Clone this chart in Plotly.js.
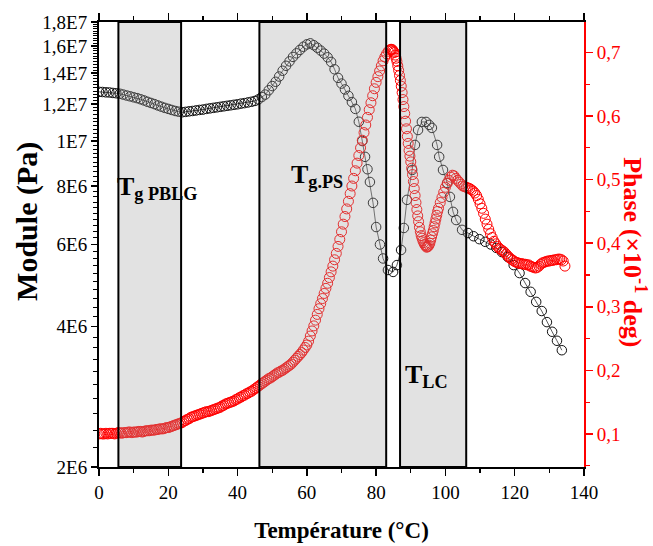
<!DOCTYPE html>
<html>
<head>
<meta charset="utf-8">
<script src="https://cdn.plot.ly/plotly-3.0.1.min.js"></script>
<style>html,body{margin:0;padding:0;background:#fff;}#chart{width:653px;height:546px;}</style>
</head>
<body>
<div id="chart"></div>
<script>
// Module (Pa) — black open circles, left log axis
const moduleT = [0,1,2,3,4,5,6,7,8,9,10,11,12,13,14,15,16,17,18,19,20,21,22,23,24,25,26,27,28,29,30,31,32,33,34,35,36,37,38,39,40,41,42,43,44,45,46,
  47,48,49,50,51,52,53,54,55,56,57,58,59,60,61,62,63,64,65,66,67,68,69,70,71,72,73,74,75,76,76.8,77.5,78.2,79.1,80.0,81.1,82.0,83.4,84.9,86.0,87.2,
  88.0,88.9,90.4,91.2,92.1,93.2,94.4,95.3,96.1,97.6,98.2,99.3,100.5,101.3,102.2,103.1,104.8,106.5,108.1,109.8,111.5,113.1,114.7,
  116.3,118.0,119.7,121.4,123.0,124.6,126.2,127.8,129.3,130.8,132.2,133.6];
const moduleG = [1.275e7,1.274e7,1.272e7,1.271e7,1.268e7,1.266e7,1.263e7,1.258e7,1.252e7,1.247e7,1.241e7,1.236e7,1.229e7,1.222e7,1.214e7,1.207e7,1.200e7,1.192e7,1.185e7,1.178e7,1.172e7,1.166e7,1.160e7,1.156e7,1.153e7,1.155e7,1.158e7,1.160e7,1.163e7,1.166e7,1.168e7,1.172e7,1.175e7,1.178e7,1.181e7,1.184e7,1.187e7,1.190e7,1.193e7,1.196e7,1.199e7,1.203e7,1.206e7,1.210e7,1.214e7,1.219e7,1.228e7,
  1.243e7,1.258e7,1.285e7,1.312e7,1.340e7,1.375e7,1.415e7,1.450e7,1.482e7,1.515e7,1.542e7,1.568e7,1.593e7,1.612e7,1.620e7,1.605e7,1.585e7,1.563e7,1.540e7,1.512e7,1.478e7,1.425e7,1.366e7,1.328e7,1.290e7,1.250e7,1.212e7,1.172e7,1.100e7,1.000e7,9.25e6,8.70e6,8.17e6,7.37e6,6.54e6,6.00e6,5.60e6,5.29e6,5.24e6,5.42e6,5.84e6,
  6.51e6,7.48e6,8.67e6,9.81e6,1.056e7,1.099e7,1.099e7,1.083e7,1.067e7,9.81e6,9.25e6,8.67e6,8.13e6,7.59e6,7.05e6,6.77e6,6.45e6,6.35e6,6.25e6,6.16e6,6.08e6,6.00e6,5.90e6,
  5.78e6,5.64e6,5.42e6,5.21e6,4.96e6,4.75e6,4.52e6,4.32e6,4.09e6,3.90e6,3.73e6,3.56e6];

// Phase (x10^-1 deg) — red open circles, right axis
const phaseT = [
  0,0.5,1,1.5,2,2.5,3,3.5,4,4.5,5,5.5,6,6.5,7,7.5,8,8.5,9,9.5,10,10.5,11,11.5,12,12.5,13,13.5,14,14.5,15,15.5,16,16.5,17,17.5,18,18.5,19,19.5,
  20,20.5,21,21.5,22,22.5,23,23.5,24,24.5,25,25.5,26,26.5,27,27.5,28,28.5,29,29.5,30,30.5,31,31.5,32,32.5,33,33.5,34,34.5,35,35.5,36,36.5,37,37.5,38,38.5,39,39.5,
  40,40.5,41,41.5,42,42.5,43,43.5,44,44.5,45,45.5,46,46.5,47,47.5,48,48.5,49,49.5,50,50.5,51,51.5,52,52.5,53,53.5,54,54.5,55,55.5,56,56.5,57,57.5,58,58.5,59,59.5,60,
  60.5,61,61.5,62,62.5,63,63.5,64,64.5,65,65.5,66,66.5,67,67.5,68,68.5,69,69.5,70,70.5,71,71.5,72,72.5,73,73.5,74,74.5,75,75.5,76,76.5,77,77.5,78,78.5,79,79.5,80,80.5,81,81.5,82,82.5,83,83.5,84,
  84.25,84.5,84.75,85,85.25,85.5,85.75,86,86.25,86.5,86.75,87,87.25,87.5,87.75,88,88.25,88.5,88.75,89,89.25,89.5,89.75,90,90.25,90.5,90.75,91,91.25,91.5,91.75,92,92.25,92.5,92.75,93,93.25,93.5,93.75,94,94.25,94.5,94.75,95,95.25,95.5,95.75,96,96.25,96.5,96.75,97,97.25,97.5,97.75,98,
  98.5,99,99.5,100,100.5,101,101.5,102,102.5,103,103.5,104,104.5,105,105.5,106,
  106.5,107,107.5,108,108.5,109,109.5,110,110.5,111,111.5,112,112.5,113,113.5,114,114.5,115,115.5,116,116.5,117,117.5,118,118.5,119,119.5,120,
  120.5,121,121.5,122,122.5,123,123.5,124,124.5,125,125.5,126,126.5,127,127.5,128,128.5,129,129.5,130,130.5,131,131.5,132,132.5,133,133.5,134,134.5];
const phaseV = [
  0.100,0.101,0.100,0.100,0.101,0.100,0.101,0.101,0.101,0.100,0.101,0.102,0.102,0.101,0.102,0.102,0.102,0.103,0.103,0.102,
  0.103,0.103,0.103,0.104,0.104,0.103,0.104,0.105,0.105,0.105,0.106,0.106,0.106,0.107,0.107,0.108,0.108,0.108,0.109,0.110,
  0.110,0.111,0.112,0.113,0.114,0.115,0.116,0.117,0.118,0.120,0.121,0.123,0.124,0.126,0.127,0.128,0.129,0.130,0.131,0.132,
  0.133,0.134,0.135,0.135,0.136,0.137,0.138,0.139,0.140,0.141,0.142,0.144,0.145,0.147,0.148,0.149,0.150,0.151,0.152,0.154,
  0.155,0.157,0.158,0.160,0.161,0.163,0.164,0.166,0.167,0.169,0.171,0.173,0.175,0.177,0.179,0.181,0.183,0.185,0.187,0.188,
  0.190,0.192,0.194,0.196,0.197,0.199,0.200,0.202,0.204,0.206,0.208,0.210,0.213,0.216,0.219,0.222,0.225,0.228,0.232,0.236,0.240,
  0.246,0.254,0.262,0.270,0.279,0.288,0.297,0.305,0.313,0.321,0.329,0.337,0.346,0.355,0.364,0.374,0.384,0.395,0.406,0.418,
  0.430,0.442,0.454,0.466,0.478,0.490,0.502,0.514,0.526,0.538,0.550,0.562,0.574,0.586,0.598,0.610,0.621,0.632,0.643,0.653,
  0.662,0.671,0.679,0.687,0.693,0.698,0.702,0.704,
  0.705,0.705,0.704,0.702,0.700,0.696,0.691,0.686,0.679,0.672,0.664,0.656,0.647,0.637,0.626,0.615,0.604,0.592,0.580,0.568,
  0.557,0.546,0.537,0.528,0.518,0.508,0.497,0.486,0.475,0.464,0.453,0.443,0.434,0.425,0.418,0.412,0.408,0.404,0.401,0.398,
  0.396,0.394,0.394,0.395,0.397,0.400,0.405,0.410,0.415,0.420,0.426,0.432,0.438,0.444,0.450,0.455,
  0.464,0.472,0.480,0.488,0.494,0.499,0.504,0.507,0.506,0.502,0.499,0.496,0.493,0.490,0.489,0.488,
  0.487,0.486,0.484,0.482,0.479,0.475,0.469,0.462,0.455,0.447,0.438,0.430,0.422,0.415,0.409,0.403,0.399,0.395,0.392,0.390,
  0.388,0.386,0.383,0.380,0.377,0.375,0.373,0.371,
  0.370,0.369,0.368,0.368,0.367,0.367,0.366,0.366,0.364,0.363,0.362,0.361,0.362,0.364,0.367,0.369,0.370,0.371,0.372,0.372,
  0.373,0.373,0.374,0.374,0.375,0.375,0.374,0.372,0.364];

// Transition zones (°C)
const zoneStart = [5.6, 46.3, 86.9];
const zoneEnd = [23.7, 82.9, 106.0];
const zoneLabels = ['<b>T<sub>g PBLG</sub></b>', '<b>T<sub>g.PS</sub></b>', '<b>T<sub>LC</sub></b>'];
const zoneLabelX = [16.8, 63.0, 94.4];
const zoneLabelY = [0.668, 0.655, 0.163];

// Axis ticks
const xTicks = [0,20,40,60,80,100,120,140];
const yTickVals = [2e6,4e6,6e6,8e6,1e7,1.2e7,1.4e7,1.6e7,1.8e7];
const yTickText = ['2E6','4E6','6E6','8E6','1E7','1,2E7','1,4E7','1,6E7','1,8E7'];
const y2TickVals = [0.1,0.2,0.3,0.4,0.5,0.6,0.7];
const y2TickText = ['0,1','0,2','0,3','0,4','0,5','0,6','0,7'];

const yMinor = [];
for (let v = 2.2e6; v < 1.8e7; v += 2e5) {
  const r = Math.round(v / 1e5) * 1e5;
  if (!yTickVals.some(t => Math.abs(t - r) < 1)) yMinor.push(r);
}

const FONT = 'Liberation Serif, Times New Roman, serif';

const traces = [
  {
    x: moduleT, y: moduleG, type: 'scatter', mode: 'lines+markers',
    line: {color: '#333333', width: 0.8},
    marker: {symbol: 'circle-open', size: 9.5, color: '#111111', line: {width: 1}},
    yaxis: 'y', showlegend: false, hoverinfo: 'skip'
  },
  {
    x: phaseT, y: phaseV, type: 'scatter', mode: 'markers',
    marker: {symbol: 'circle-open', size: 10, color: '#ff0000', line: {width: 1}},
    yaxis: 'y2', showlegend: false, hoverinfo: 'skip'
  }
];

const shapes = zoneStart.map((s, i) => ({
  type: 'rect', xref: 'x', yref: 'paper', x0: s, x1: zoneEnd[i], y0: 0, y1: 1,
  fillcolor: 'rgba(160,160,160,0.30)', line: {color: '#000', width: 2}, layer: 'above'
}));

const annotations = zoneLabels.map((t, i) => ({
  text: t, xref: 'x', yref: 'paper', x: zoneLabelX[i], y: zoneLabelY[i],
  showarrow: false, font: {family: FONT, size: 26, color: '#000'}
}));
// Y-axis titles placed as rotated text to match the reference positions
annotations.push({
  text: '<b>Module (Pa)</b>', xref: 'paper', yref: 'paper', x: -0.1485, y: 0.553,
  xanchor: 'center', yanchor: 'middle',
  textangle: -90, showarrow: false, font: {family: FONT, size: 30, color: '#000'}
});
annotations.push({
  text: '<b>Phase (×10<sup>-1</sup> deg)</b>', xref: 'paper', yref: 'paper', x: 1.105, y: 0.483,
  xanchor: 'center', yanchor: 'middle',
  textangle: 90, showarrow: false, font: {family: FONT, size: 26, color: '#ff0000'}
});

const layout = {
  width: 653, height: 546,
  margin: {l: 99, r: 69, t: 22, b: 79},
  paper_bgcolor: '#fff', plot_bgcolor: '#fff',
  font: {family: FONT, color: '#000', size: 19},
  xaxis: {
    range: [0, 140], tickmode: 'array', tickvals: xTicks,
    ticks: 'outside', ticklen: 7, tickwidth: 1.5, tickcolor: '#000',
    minor: {dtick: 10, ticks: 'outside', ticklen: 4, tickwidth: 1.2, tickcolor: '#000'},
    showline: true, linecolor: '#000', linewidth: 2, mirror: 'ticks',
    showgrid: false, zeroline: false,
    tickfont: {family: FONT, size: 19, color: '#000'},
    title: {text: '<b>Température (°C)</b>', font: {family: FONT, size: 23, color: '#000'}, standoff: 20},
    automargin: false
  },
  yaxis: {
    type: 'log', range: [Math.log10(2e6), Math.log10(1.8e7)],
    tickmode: 'array', tickvals: yTickVals, ticktext: yTickText,
    ticks: 'outside', ticklen: 6, tickwidth: 1.5, tickcolor: '#000',
    minor: {tickmode: 'array', tickvals: yMinor, ticks: 'outside', ticklen: 4, tickwidth: 1, tickcolor: '#000'},
    showline: true, linecolor: '#000', linewidth: 2,
    showgrid: false, zeroline: false,
    tickfont: {family: FONT, size: 19, color: '#000'},
    automargin: false
  },
  yaxis2: {
    overlaying: 'y', side: 'right', range: [0.048, 0.748],
    tickmode: 'array', tickvals: y2TickVals, ticktext: y2TickText,
    ticks: 'outside', ticklen: 7, tickwidth: 1.5, tickcolor: '#ff0000',
    minor: {dtick: 0.05, ticks: 'outside', ticklen: 4, tickwidth: 1.2, tickcolor: '#ff0000'},
    showline: true, linecolor: '#ff0000', linewidth: 2,
    showgrid: false, zeroline: false,
    tickfont: {family: FONT, size: 19, color: '#ff0000'},
    automargin: false
  },
  shapes: shapes,
  annotations: annotations
};

Plotly.newPlot('chart', traces, layout, {staticPlot: true, displayModeBar: false});
</script>
</body>
</html>
